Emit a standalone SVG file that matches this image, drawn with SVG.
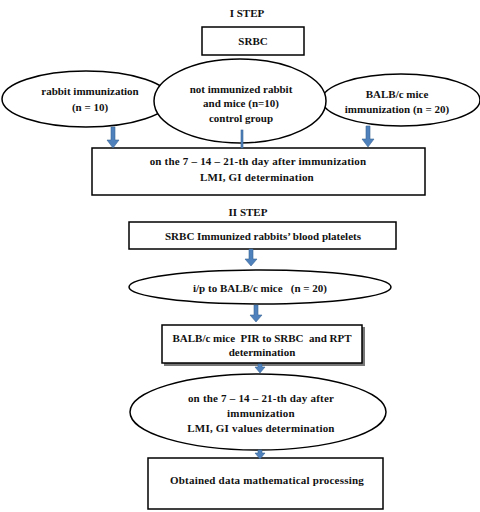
<svg xmlns="http://www.w3.org/2000/svg" width="480" height="512" viewBox="0 0 480 512">
<style>
.s{fill:#fff;stroke:#000;stroke-width:1.5}
text{font-family:"Liberation Serif","Times New Roman",serif;font-weight:bold;font-size:11px;fill:#111;text-anchor:middle}
.a{fill:#4F81BD;stroke:#3A6494;stroke-width:0.6}
</style>
<defs>
<path id="arr" d="M-2,0 h4 v13 h4 l-6,8 l-6,-8 h4 z"/>
<path id="arrs" d="M-2,0 h4 v10 h4 l-6,7 l-6,-7 h4 z"/>
<path id="arrt" d="M-2,0 h4 v3 h3 l-5,6 l-5,-6 h3 z"/>
</defs>
<rect width="480" height="512" fill="#fff"/>
<text x="247" y="17">I STEP</text>
<text x="248" y="216">II STEP</text>
<g id="srbc"><rect class="s" x="202" y="27" width="102" height="28"/><text x="253" y="45">SRBC</text></g>
<g id="rabbit"><ellipse class="s" cx="86" cy="99" rx="84" ry="28"/><text x="90" y="95" font-size="9.5">rabbit immunization</text><text x="90" y="111">(n = 10)</text></g>
<g id="balb"><ellipse class="s" cx="401" cy="100" rx="79" ry="26"/><text x="397" y="98">BALB/c mice</text><text x="397" y="113">immunization (n = 20)</text></g>
<g id="control"><ellipse class="s" cx="240" cy="101" rx="86" ry="42"/><text x="241" y="93">not immunized rabbit</text><text x="241" y="107">and mice (n=10)</text><text x="241" y="122">control group</text></g>
<g id="day1"><rect class="s" x="92" y="148" width="333" height="47"/><text x="258" y="165" letter-spacing="0.2">on the 7 – 14 – 21-th day after immunization</text><text x="257" y="181" letter-spacing="0.2">LMI, GI determination</text></g>
<g id="platelets"><rect class="s" x="129" y="222" width="267" height="27"/><text x="263" y="240">SRBC Immunized rabbits’  blood platelets</text></g>
<g id="ip"><ellipse class="s" cx="260" cy="287" rx="131" ry="17"/><text x="260" y="292" xml:space="preserve">i/p to BALB/c mice   (n = 20)</text></g>
<g id="pir"><rect x="164" y="327" width="201" height="39" fill="#777"/><rect class="s" x="162" y="325" width="200" height="38"/><text x="262" y="342" xml:space="preserve">BALB/c mice  PIR to SRBC  and RPT</text><text x="262" y="356">determination</text></g>
<g id="day2"><ellipse class="s" cx="258" cy="412" rx="128" ry="38"/><text x="261" y="402" letter-spacing="0.2">on the 7 – 14 – 21-th day after</text><text x="261" y="417" letter-spacing="0.2">immunization</text><text x="261" y="432" letter-spacing="0.2">LMI, GI values determination</text></g>
<g id="math"><rect class="s" x="148" y="458" width="235" height="51"/><text x="267" y="484" letter-spacing="0.2">Obtained data mathematical processing</text></g>
<g id="connectors">
<use href="#arr" class="a" x="113" y="127"/>
<rect class="a" x="241" y="130" width="2" height="18"/>
<use href="#arr" class="a" x="368" y="126"/>
<use href="#arrs" class="a" x="251" y="249"/>
<use href="#arrs" class="a" x="256" y="305"/>
<use href="#arrt" class="a" x="260" y="364"/>
<use href="#arrt" class="a" x="260" y="450"/>
</g>
</svg>
